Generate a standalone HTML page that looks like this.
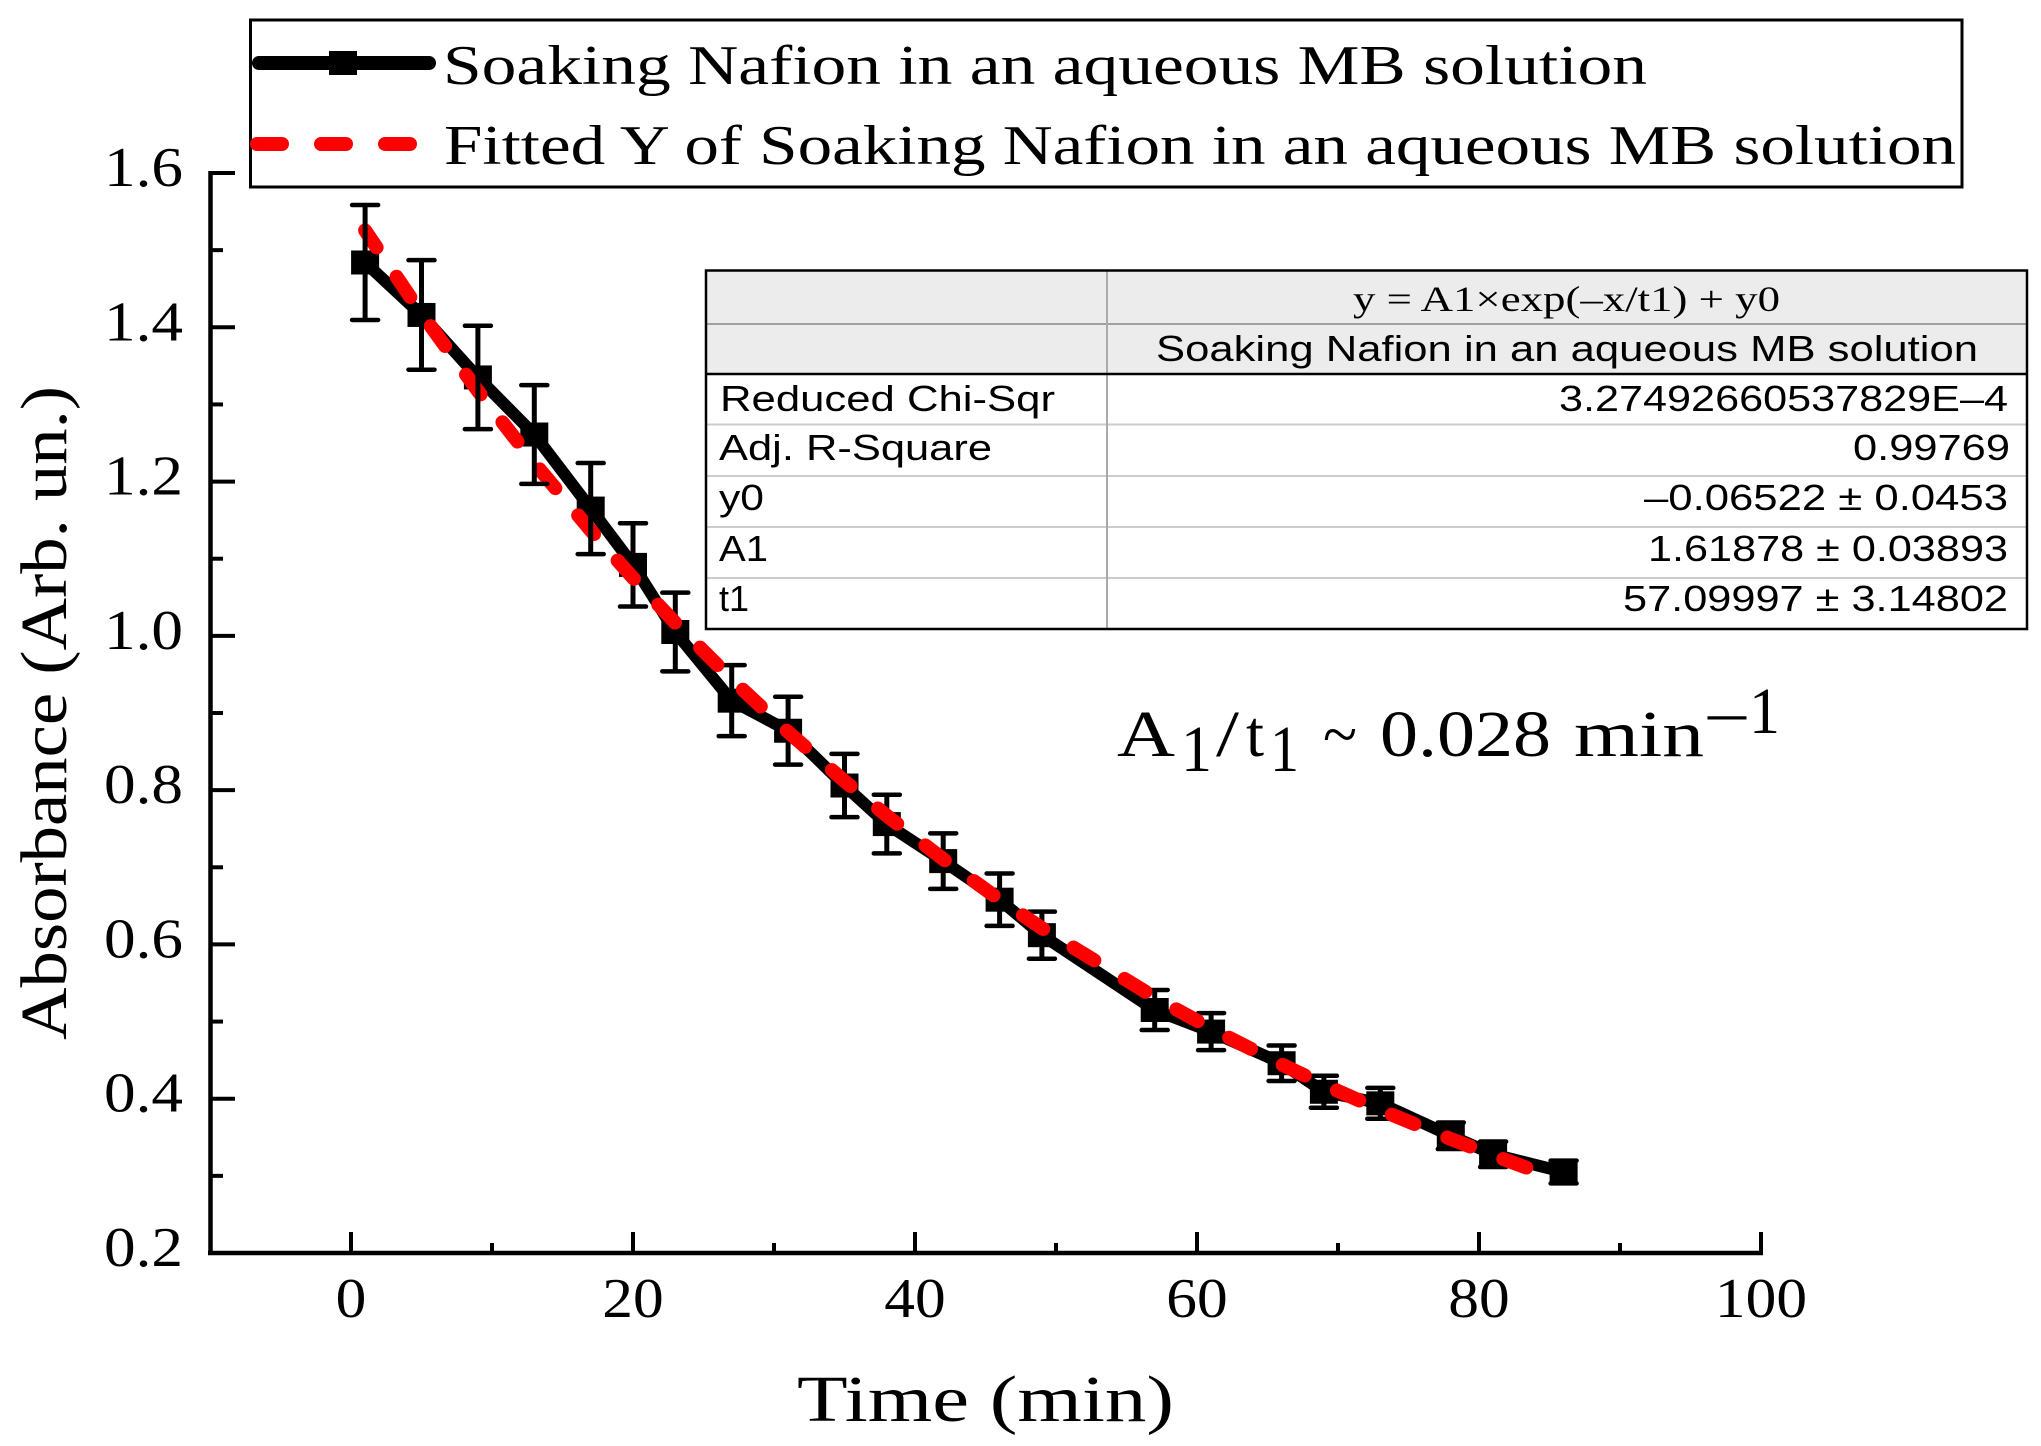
<!DOCTYPE html>
<html lang="en">
<head>
<meta charset="utf-8">
<title>Absorbance vs Time</title>
<style>
html,body{margin:0;padding:0;background:#fff;width:2041px;height:1446px;overflow:hidden}
svg{display:block}
.serif{font-family:"Liberation Serif",serif;fill:#000}
.sans{font-family:"Liberation Sans",sans-serif;fill:#000;font-size:36px}
</style>
</head>
<body>
<svg id="chart" xmlns="http://www.w3.org/2000/svg" width="2041" height="1446" viewBox="0 0 2041 1446">
  <rect x="0" y="0" width="2041" height="1446" fill="#fff"/>
  <g id="axes"></g>
  <g id="plot"></g>

  <text class="serif" x="797" y="1421" font-size="66" textLength="377" lengthAdjust="spacingAndGlyphs">Time (min)</text>
  <text class="serif" transform="translate(66,1040) rotate(-90)" font-size="66" textLength="654" lengthAdjust="spacingAndGlyphs">Absorbance (Arb. un.)</text>

  <g>
    <rect x="250.5" y="20" width="1711.5" height="167" fill="#fff" stroke="#000" stroke-width="3"/>
    <line x1="259" y1="63" x2="429" y2="63" stroke="#000" stroke-width="14" stroke-linecap="round"/>
    <rect x="329" y="51" width="28" height="24" fill="#000"/>
    <text class="serif" x="443" y="84" font-size="56" textLength="1204" lengthAdjust="spacingAndGlyphs">Soaking Nafion in an aqueous MB solution</text>
    <line x1="257" y1="144" x2="411" y2="144" stroke="#f00" stroke-width="14" stroke-linecap="round" stroke-dasharray="25 39"/>
    <text class="serif" x="444" y="164" font-size="56" textLength="1512" lengthAdjust="spacingAndGlyphs">Fitted Y of Soaking Nafion in an aqueous MB solution</text>
  </g>

  <g>
    <rect x="706" y="270" width="1321" height="104" fill="#ececec"/>
    <line x1="706" y1="324" x2="2027" y2="324" stroke="#a0a0a0" stroke-width="2"/>
    <line x1="706" y1="424.5" x2="2027" y2="424.5" stroke="#ccc" stroke-width="2"/>
    <line x1="706" y1="476" x2="2027" y2="476" stroke="#ccc" stroke-width="2"/>
    <line x1="706" y1="527" x2="2027" y2="527" stroke="#ccc" stroke-width="2"/>
    <line x1="706" y1="578" x2="2027" y2="578" stroke="#ccc" stroke-width="2"/>
    <line x1="1107" y1="270" x2="1107" y2="629" stroke="#aaa" stroke-width="2"/>
    <line x1="706" y1="374" x2="2027" y2="374" stroke="#000" stroke-width="2.5"/>
    <rect x="706" y="270.5" width="1321" height="358.5" fill="none" stroke="#000" stroke-width="2.5"/>

    <text class="serif" x="1353" y="311" font-size="36" textLength="427" lengthAdjust="spacingAndGlyphs">y = A1×exp(–x/t1) + y0</text>
    <text class="sans" x="1156" y="361" textLength="822" lengthAdjust="spacingAndGlyphs">Soaking Nafion in an aqueous MB solution</text>

    <text class="sans" x="720" y="411" textLength="335" lengthAdjust="spacingAndGlyphs">Reduced Chi-Sqr</text>
    <text class="sans" x="719" y="460" textLength="273" lengthAdjust="spacingAndGlyphs">Adj. R-Square</text>
    <text class="sans" x="719" y="510" textLength="45" lengthAdjust="spacingAndGlyphs">y0</text>
    <text class="sans" x="719" y="561" textLength="49" lengthAdjust="spacingAndGlyphs">A1</text>
    <text class="sans" x="719" y="611" textLength="30" lengthAdjust="spacingAndGlyphs">t1</text>

    <text class="sans" x="1559" y="411" textLength="449" lengthAdjust="spacingAndGlyphs">3.27492660537829E–4</text>
    <text class="sans" x="1853" y="460" textLength="157" lengthAdjust="spacingAndGlyphs">0.99769</text>
    <text class="sans" x="1644" y="510" textLength="364" lengthAdjust="spacingAndGlyphs">–0.06522 ± 0.0453</text>
    <text class="sans" x="1648" y="561" textLength="360" lengthAdjust="spacingAndGlyphs">1.61878 ± 0.03893</text>
    <text class="sans" x="1623" y="611" textLength="385" lengthAdjust="spacingAndGlyphs">57.09997 ± 3.14802</text>
  </g>

  <g font-size="66">
    <text class="serif" x="1117" y="756" textLength="58" lengthAdjust="spacingAndGlyphs">A</text>
    <text class="serif" x="1181" y="771" textLength="31" lengthAdjust="spacingAndGlyphs">1</text>
    <text class="serif" x="1216" y="756" textLength="23" lengthAdjust="spacingAndGlyphs">/</text>
    <text class="serif" x="1246" y="756" textLength="18" lengthAdjust="spacingAndGlyphs">t</text>
    <text class="serif" x="1270" y="771" textLength="29" lengthAdjust="spacingAndGlyphs">1</text>
    <text class="serif" x="1323" y="756" textLength="34" lengthAdjust="spacingAndGlyphs">~</text>
    <text class="serif" x="1380" y="756" textLength="171" lengthAdjust="spacingAndGlyphs">0.028</text>
    <text class="serif" x="1574" y="756" textLength="130" lengthAdjust="spacingAndGlyphs">min</text>
    <text class="serif" x="1708" y="733" textLength="38" lengthAdjust="spacingAndGlyphs">–</text>
    <text class="serif" x="1749" y="733" textLength="31" lengthAdjust="spacingAndGlyphs">1</text>
  </g>
</svg>

<script>
var xTickLabels = ["0", "20", "40", "60", "80", "100"];
var xMinorTicks = [10, 30, 50, 70, 90];
var yTickLabels = ["0.2", "0.4", "0.6", "0.8", "1.0", "1.2", "1.4", "1.6"];
var yMinorTicks = [0.3, 0.5, 0.7, 0.9, 1.1, 1.3, 1.5];

var timeValues = [1, 5, 9, 13, 17, 20, 23, 27, 31, 35, 38, 42, 46, 49, 57, 61, 66, 69, 73, 78, 81, 86];
var absorbanceValues = [1.484, 1.416, 1.335, 1.261, 1.165, 1.092, 1.005, 0.916, 0.877, 0.806, 0.756, 0.708, 0.658, 0.612, 0.515, 0.487, 0.446, 0.409, 0.394, 0.352, 0.328, 0.305];
var errorValues = [0.0745, 0.071, 0.067, 0.064, 0.059, 0.054, 0.051, 0.046, 0.044, 0.041, 0.038, 0.036, 0.034, 0.0305, 0.026, 0.024, 0.023, 0.0207, 0.020, 0.0172, 0.0165, 0.0148];

var fitTimes = [1, 5, 9, 13, 17, 20, 23, 27, 31, 35, 38, 42, 46, 49, 57, 61, 66, 69, 73, 78, 81, 84];
var fitValues = [1.5255, 1.4178, 1.3175, 1.2240, 1.1368, 1.0752, 1.0169, 0.9437, 0.8754, 0.8118, 0.7669, 0.7106, 0.6581, 0.6211, 0.5313, 0.4910, 0.4444, 0.4183, 0.3855, 0.3478, 0.3266, 0.3065];

function xScale(v) { return 351 + (v - 0) * 14.1; }
function yScale(v) { return 173 + (1.6 - v) * (1080 / 1.4); }

var NS = "http://www.w3.org/2000/svg";
function make(tag, attrs, parent) {
  var el = document.createElementNS(NS, tag);
  for (var k in attrs) { el.setAttribute(k, attrs[k]); }
  parent.appendChild(el);
  return el;
}

var axes = document.getElementById("axes");
var plot = document.getElementById("plot");

var xAxisLine = make("line", {x1: 208, y1: 1253, x2: 1763, y2: 1253, stroke: "#000", "stroke-width": 4.5}, axes);


var yAxisLine = make("line", {x1: 210.5, y1: 171, x2: 210.5, y2: 1255, stroke: "#000", "stroke-width": 4.5}, axes);



xTickLabels.forEach(function (label) {
  var v = parseFloat(label);
  var px = xScale(v);
  var tick = make("line", {x1: px, y1: 1232, x2: px, y2: 1253, stroke: "#000", "stroke-width": 4}, axes);
  
  
  var text = make("text", {x: px, y: 1317, "text-anchor": "middle", "font-size": 56, "class": "serif", textLength: label.length * 30.7, lengthAdjust: "spacingAndGlyphs"}, axes);
  
  
  text.textContent = label;
});
xMinorTicks.forEach(function (v) {
  var px = xScale(v);
  var tick = make("line", {x1: px, y1: 1243, x2: px, y2: 1253, stroke: "#000", "stroke-width": 4}, axes);
  
  
});
yTickLabels.forEach(function (label) {
  var v = parseFloat(label);
  var py = yScale(v);
  var tick = make("line", {x1: 210, y1: py, x2: 235, y2: py, stroke: "#000", "stroke-width": 4}, axes);
  
  
  var text = make("text", {x: 104, y: py + 13, "font-size": 56, "class": "serif", textLength: 79, lengthAdjust: "spacingAndGlyphs"}, axes);
  
  
  text.textContent = label;
});
yMinorTicks.forEach(function (v) {
  var py = yScale(v);
  var tick = make("line", {x1: 210, y1: py, x2: 223, y2: py, stroke: "#000", "stroke-width": 4}, axes);
  
  
});

var measuredPoints = timeValues.map(function (t, i) { return xScale(t) + "," + yScale(absorbanceValues[i]); }).join(" ");
var measuredLine = make("polyline", {points: measuredPoints, fill: "none", stroke: "#000", "stroke-width": 12, "stroke-linejoin": "round", "stroke-linecap": "round"}, plot);



timeValues.forEach(function (t, i) {
  var marker = make("rect", {x: xScale(t) - 14, y: yScale(absorbanceValues[i]) - 12, width: 28, height: 24, fill: "#000"}, plot);
  
  
});

function drawErrorBar(t, i) {
  var px = xScale(t);
  var top = yScale(absorbanceValues[i] + errorValues[i]);
  var bottom = yScale(absorbanceValues[i] - errorValues[i]);
  var bar = make("line", {x1: px, y1: top, x2: px, y2: bottom, stroke: "#000", "stroke-width": 5}, plot);
  
  
  var capTop = make("line", {x1: px - 13, y1: top, x2: px + 13, y2: top, stroke: "#000", "stroke-width": 4.5, "stroke-linecap": "round"}, plot);
  
  
  var capBottom = make("line", {x1: px - 13, y1: bottom, x2: px + 13, y2: bottom, stroke: "#000", "stroke-width": 4.5, "stroke-linecap": "round"}, plot);
  
  
}

/* Early error bars sit above the dashed fit; later ones sit beneath it. */
timeValues.forEach(function (t, i) {
  if (t > 17) { drawErrorBar(t, i); }
});

var fitPoints = fitTimes.map(function (t, i) { return xScale(t) + "," + yScale(fitValues[i]); }).join(" ");
var fitLine = make("polyline", {points: fitPoints, fill: "none", stroke: "#f00", "stroke-width": 14, "stroke-linejoin": "round", "stroke-linecap": "round", "stroke-dasharray": "24.5 35.5", "stroke-dashoffset": 4}, plot);



timeValues.forEach(function (t, i) {
  if (t <= 17) { drawErrorBar(t, i); }
});
</script>
</body>
</html>
